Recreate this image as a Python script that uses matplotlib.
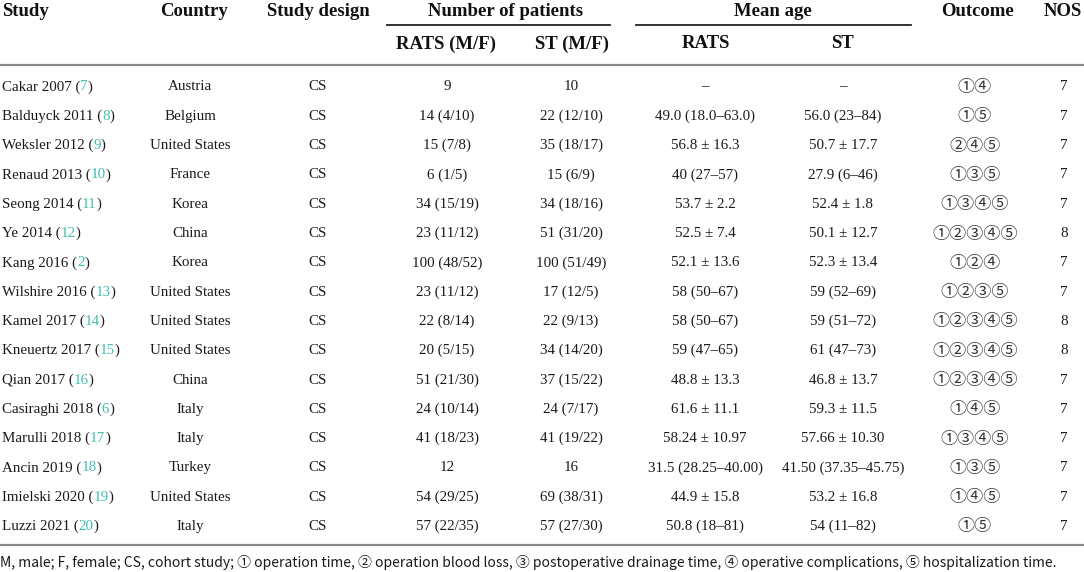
import matplotlib.pyplot as plt

# table content
studies = ["Cakar 2007", "Balduyck 2011", "Weksler 2012", "Renaud 2013", "Seong 2014",
           "Ye 2014", "Kang 2016", "Wilshire 2016", "Kamel 2017", "Kneuertz 2017",
           "Qian 2017", "Casiraghi 2018", "Marulli 2018", "Ancin 2019", "Imielski 2020",
           "Luzzi 2021"]
refs = ["7", "8", "9", "10", "11", "12", "2", "13", "14", "15", "16", "6", "17", "18", "19", "20"]
countries = ["Austria", "Belgium", "United States", "France", "Korea", "China", "Korea",
             "United States", "United States", "United States", "China", "Italy", "Italy",
             "Turkey", "United States", "Italy"]
design = ["CS"] * 16
rats_n = ["9", "14 (4/10)", "15 (7/8)", "6 (1/5)", "34 (15/19)", "23 (11/12)", "100 (48/52)",
          "23 (11/12)", "22 (8/14)", "20 (5/15)", "51 (21/30)", "24 (10/14)", "41 (18/23)",
          "12", "54 (29/25)", "57 (22/35)"]
st_n = ["10", "22 (12/10)", "35 (18/17)", "15 (6/9)", "34 (18/16)", "51 (31/20)", "100 (51/49)",
        "17 (12/5)", "22 (9/13)", "34 (14/20)", "37 (15/22)", "24 (7/17)", "41 (19/22)",
        "16", "69 (38/31)", "57 (27/30)"]
rats_age = ["–", "49.0 (18.0–63.0)", "56.8 ± 16.3", "40 (27–57)", "53.7 ± 2.2", "52.5 ± 7.4",
            "52.1 ± 13.6", "58 (50–67)", "58 (50–67)", "59 (47–65)", "48.8 ± 13.3",
            "61.6 ± 11.1", "58.24 ± 10.97", "31.5 (28.25–40.00)", "44.9 ± 15.8", "50.8 (18–81)"]
st_age = ["–", "56.0 (23–84)", "50.7 ± 17.7", "27.9 (6–46)", "52.4 ± 1.8", "50.1 ± 12.7",
          "52.3 ± 13.4", "59 (52–69)", "59 (51–72)", "61 (47–73)", "46.8 ± 13.7",
          "59.3 ± 11.5", "57.66 ± 10.30", "41.50 (37.35–45.75)", "53.2 ± 16.8", "54 (11–82)"]
outcome = ["①④", "①⑤", "②④⑤", "①③⑤", "①③④⑤", "①②③④⑤", "①②④", "①②③⑤",
           "①②③④⑤", "①②③④⑤", "①②③④⑤", "①④⑤", "①③④⑤", "①③⑤", "①④⑤", "①⑤"]
nos = ["7", "7", "7", "7", "7", "8", "7", "7", "8", "8", "7", "7", "7", "7", "7", "7"]

footnote = ("M, male; F, female; CS, cohort study; ① operation time, ② operation blood loss, "
            "③ postoperative drainage time, ④ operative complications, ⑤ hospitalization time.")

serif = ["Liberation Serif", "Noto Sans CJK SC", "DejaVu Sans"]
teal = "#3fbfb0"

fig = plt.figure(figsize=(10.84, 5.72), dpi=100)
ax = fig.add_axes([0, 0, 1, 1])
ax.set_xlim(0, 1084)
ax.set_ylim(572, 0)
ax.axis("off")

hdr = dict(family=serif, fontsize=13.5, fontweight="bold", va="center", color="#111111")
ax.text(2, 11, "Study", ha="left", **hdr)
ax.text(194, 11, "Country", ha="center", **hdr)
ax.text(318, 11, "Study design", ha="center", **hdr)
ax.text(506, 11, "Number of patients", ha="center", **hdr)
ax.text(773, 11, "Mean age", ha="center", **hdr)
ax.text(978, 11, "Outcome", ha="center", **hdr)
ax.text(1063, 11, "NOS", ha="center", **hdr)
ax.text(446, 44, "RATS (M/F)", ha="center", **hdr)
ax.text(572, 44, "ST (M/F)", ha="center", **hdr)
ax.text(706, 44, "RATS", ha="center", **hdr)
ax.text(842, 44, "ST", ha="center", **hdr)

ax.plot([387, 610], [25, 25], color="#222222", lw=1.3)
ax.plot([636, 911], [25, 25], color="#222222", lw=1.3)
ax.plot([0, 1084], [65, 65], color="#8a8a8a", lw=1.6)
ax.plot([0, 1084], [545, 545], color="#8a8a8a", lw=1.6)

body = dict(family=serif, fontsize=10.8, va="center", color="#1a1a1a")
y0, dy = 87, 29.3
fig.canvas.draw()
renderer = fig.canvas.get_renderer()
inv = ax.transData.inverted()

for i in range(len(studies)):
    y = y0 + i * dy
    # study name with coloured reference number
    x = 2
    for part, col in [(studies[i] + " (", "#1a1a1a"), (refs[i], teal), (")", "#1a1a1a")]:
        t = ax.text(x, y, part, ha="left", **{**body, "color": col})
        bb = t.get_window_extent(renderer)
        x = inv.transform((bb.x1, bb.y0))[0]
    ax.text(190, y, countries[i], ha="center", **body)
    ax.text(318, y, design[i], ha="center", **body)
    ax.text(447, y, rats_n[i], ha="center", **body)
    ax.text(571, y, st_n[i], ha="center", **body)
    ax.text(705, y, rats_age[i], ha="center", **body)
    ax.text(843, y, st_age[i], ha="center", **body)
    ax.text(975, y, outcome[i], ha="center", **{**body, "family": ["Noto Sans CJK SC", "DejaVu Sans"],
                                                "fontsize": 12.3, "color": "#333333"})
    ax.text(1064, y, nos[i], ha="center", **body)

ax.text(0, 563, footnote, ha="left", va="center", family=["Liberation Sans Narrow", "Noto Sans CJK SC", "DejaVu Sans"],
        fontsize=10.0, color="#1a1a1a")

fig.savefig("out.png", dpi=100)
